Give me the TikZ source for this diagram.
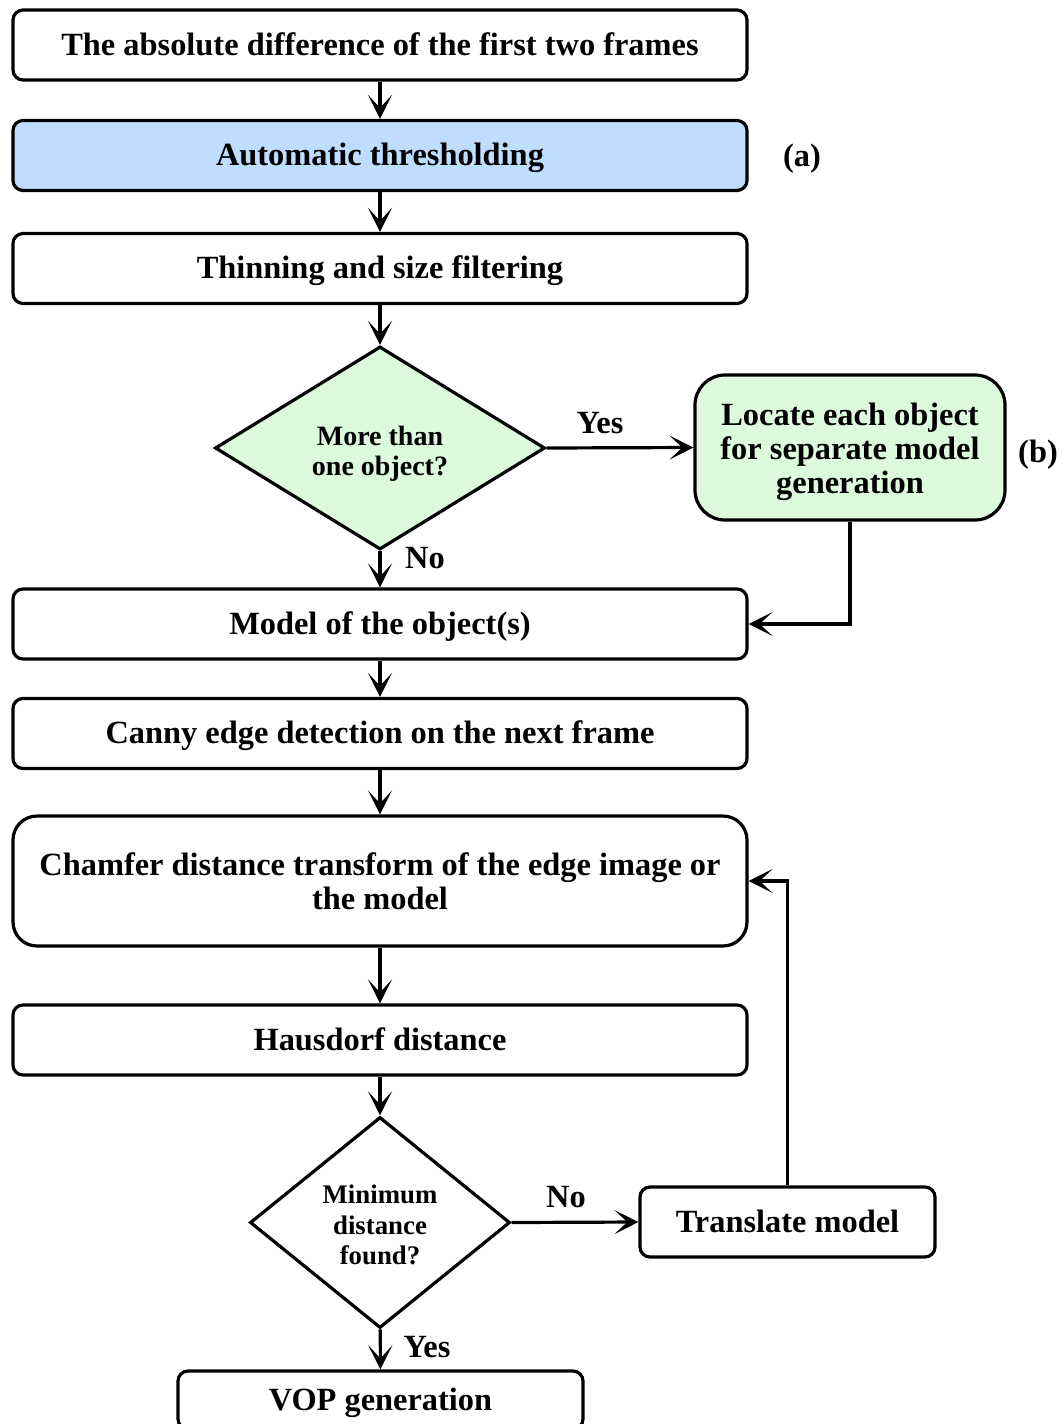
\documentclass[tikz,border=0pt]{standalone}
\usepackage{fontspec}
\setmainfont{Liberation Serif}
\usetikzlibrary{shapes.geometric,arrows.meta}
\definecolor{boxblue}{RGB}{191,222,255}
\definecolor{boxgreen}{RGB}{221,250,221}
\begin{document}
\begin{tikzpicture}[x=0.5pt,y=-0.5pt,
 every node/.style={font=\bfseries\fontsize{16.2}{17}\selectfont},
 box/.style={draw, line width=1.6pt, rounded corners=5pt, minimum width=367pt, minimum height=35pt, inner sep=0pt, align=center},
 one/.style={text height=13pt, text depth=3pt},
 dec/.style={diamond, draw, line width=1.6pt, inner sep=0pt, align=center},
 arr/.style={line width=1.6pt, -{Stealth[length=12pt,width=12pt,inset=6.5pt]}},
 lbl/.style={inner sep=0pt, text height=13pt, text depth=3pt}
]
\useasboundingbox (0,0) rectangle (1064,1424);
\clip (0,0) rectangle (1064,1424);
\fill[white] (0,0) rectangle (1064,1424);

\node[box, one] (b1) at (380,45) {The absolute difference of the first two frames};
\node[box, one, fill=boxblue] (b2) at (380,155.5) {Automatic thresholding};
\node[box, one] (b3) at (380,268.5) {Thinning and size filtering};
\node[dec, fill=boxgreen, minimum width=165pt, minimum height=99pt, font=\bfseries\fontsize{14}{15}\selectfont] (d1) at (380,448) {\rule{0pt}{15.5pt}More than\\one object?};
\node[box, fill=boxgreen, minimum width=155pt, minimum height=72.5pt, rounded corners=15pt] (g) at (850,447.5) {\rule{0pt}{16pt}Locate each object\\for separate model\\generation};
\node[box, one] (b4) at (380,624) {Model of the object(s)};
\node[box, one] (b5) at (380,733.5) {Canny edge detection on the next frame};
\node[box, minimum height=65pt, rounded corners=12pt] (b6) at (380,881) {Chamfer distance transform of the edge image or\\the model};
\node[box, one] (b7) at (380,1040) {Hausdorf distance};
\node[dec, minimum width=130pt, minimum height=105.5pt, font=\bfseries\fontsize{13.4}{15.25}\selectfont] (d2) at (380,1222.5) {\rule{0pt}{12pt}Minimum\\distance\\found?};
\node[box, one, minimum width=147.5pt] (t) at (787.5,1222) {Translate model};
\node[box, one, minimum width=202.5pt, minimum height=29pt] (v) at (380.5,1400) {VOP generation};

\node[lbl] (la) at (802,156) {(a)};
\node[lbl] (lb) at (1038,452) {(b)};
\node[lbl] (y1) at (600,423) {Yes};
\node[lbl] (n1) at (425,558) {No};
\node[lbl] (n2) at (566,1197) {No};
\node[lbl] (y2) at (427,1347) {Yes};

\draw[arr] (b1) -- (b2);
\draw[arr] (b2) -- (b3);
\draw[arr] (b3) -- (d1);
\draw[arr] (d1) -- (b4);
\draw[arr] (d1.east) -- (g.west);
\draw[arr] (g.south) |- (b4.east);
\draw[arr] (b4) -- (b5);
\draw[arr] (b5) -- (b6);
\draw[arr] (b6) -- (b7);
\draw[arr] (b7) -- (d2);
\draw[arr] (d2.east) -- (t.west);
\draw[arr] (t.north) |- (b6.east);
\draw[arr] (d2) -- (v);
\end{tikzpicture}
\end{document}
